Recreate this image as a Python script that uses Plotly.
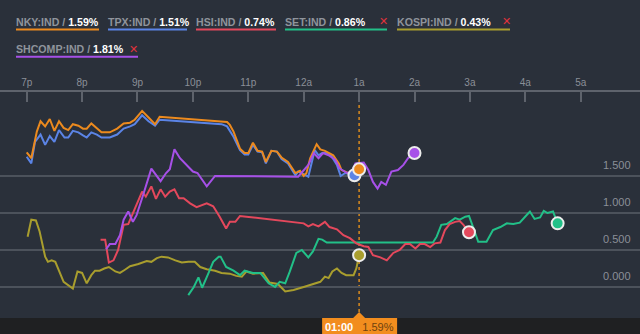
import plotly.graph_objects as go

W, H = 640, 334
TOP, BOT = 92, 16
PLOT_H = H - TOP - BOT

# ---- data: minutes after 7p, percent change ----
t_nky = [0, 5, 11, 15, 20, 25, 30, 35, 40, 45, 50, 56, 61, 65, 70, 76, 81, 90, 98, 105,
         112, 117, 125, 132, 139, 144, 155, 188, 217, 220, 224, 231, 236, 240, 245, 250, 255, 259, 265, 271,
         276, 283, 291, 296, 300, 303, 307, 314, 318, 323, 327, 332, 338, 341, 345, 348, 354, 360]
v_nky = [1.82, 1.74, 2.10, 2.24, 2.17, 2.27, 2.11, 2.24, 2.15, 2.12, 2.20, 2.18, 2.14, 2.14, 2.21, 2.15, 2.09, 2.09, 2.14, 2.21,
         2.22, 2.26, 2.38, 2.29, 2.20, 2.30, 2.29, 2.25, 2.23, 2.19, 2.10, 1.87, 1.81, 1.81, 1.95, 1.84, 1.83, 1.69, 1.84, 1.83,
         1.75, 1.69, 1.54, 1.57, 1.50, 1.54, 1.74, 1.93, 1.86, 1.84, 1.81, 1.78, 1.67, 1.58, 1.56, 1.54, 1.56, 1.59]

t_tpx = [0, 5, 9, 15, 20, 25, 30, 35, 41, 45, 50, 56, 61, 65, 70, 76, 81, 90, 98, 105,
         112, 117, 125, 132, 139, 144, 155, 188, 211, 217, 224, 231, 236, 240, 245, 250, 255, 259, 265, 271,
         276, 283, 291, 294, 298, 305, 312, 316, 320, 325, 330, 336, 340, 345, 355]
v_tpx = [1.76, 1.67, 1.96, 2.06, 1.92, 2.04, 1.96, 2.12, 2.02, 2.02, 2.11, 2.09, 2.05, 2.02, 2.09, 2.06, 2.02, 2.02, 2.06, 2.14,
         2.17, 2.20, 2.32, 2.24, 2.18, 2.26, 2.25, 2.22, 2.20, 2.17, 2.03, 1.85, 1.79, 1.79, 1.92, 1.83, 1.82, 1.67, 1.84, 1.83,
         1.73, 1.67, 1.51, 1.56, 1.54, 1.49, 1.85, 1.78, 1.81, 1.81, 1.77, 1.65, 1.50, 1.54, 1.51]

t_hsi = [80, 85, 89, 94, 99, 105, 110, 114, 119, 125, 129, 135, 140, 145, 150, 155, 160, 165, 170, 177,
         184, 195, 202, 209, 216, 220, 226, 231, 238, 253, 300, 305, 310, 316, 323, 328, 336, 343, 350, 357,
         365, 370, 375, 383, 390, 397, 404, 410, 415, 421, 426, 431, 437, 442, 448, 453, 458, 464, 469, 473, 479]
v_hsi = [0.64, 0.64, 0.33, 0.36, 0.50, 0.84, 0.85, 0.97, 1.11, 1.29, 1.22, 1.36, 1.19, 1.32, 1.22, 1.29, 1.32, 1.20, 1.20, 1.13,
         1.08, 1.13, 1.09, 0.95, 0.79, 0.88, 0.88, 0.96, 0.95, 0.93, 0.86, 0.82, 0.85, 0.82, 0.88, 0.81, 0.78, 0.70, 0.66, 0.59,
         0.55, 0.54, 0.43, 0.40, 0.36, 0.46, 0.50, 0.58, 0.58, 0.52, 0.58, 0.58, 0.54, 0.59, 0.60, 0.77, 0.85, 0.88, 0.89, 0.84, 0.74]

t_set = [175, 181, 186, 190, 197, 202, 208, 210, 216, 224, 231, 236, 245, 253, 262, 269, 274, 280, 285, 292,
         298, 305, 310, 316, 320, 325, 440, 444, 449, 455, 464, 469, 475, 479, 484, 489, 498, 505, 513, 520,
         527, 534, 542, 545, 550, 556, 560, 564, 570, 575]
v_set = [-0.11, 0.00, 0.13, -0.01, 0.19, 0.34, 0.41, 0.41, 0.27, 0.22, 0.16, 0.22, 0.19, 0.19, 0.05, 0.00, 0.07, 0.05, 0.21, 0.46,
         0.50, 0.40, 0.48, 0.65, 0.64, 0.60, 0.60, 0.68, 0.84, 0.85, 0.93, 0.91, 0.95, 0.96, 0.79, 0.61, 0.61, 0.77, 0.81, 0.86,
         0.85, 0.87, 0.98, 1.02, 0.92, 0.94, 1.03, 1.00, 1.02, 0.86]

t_kospi = [1, 5, 10, 14, 20, 23, 27, 31, 40, 45, 50, 55, 60, 65, 70, 74, 79, 84, 89, 96,
           101, 106, 112, 121, 130, 135, 141, 146, 153, 161, 168, 175, 182, 188, 195, 204, 211, 220, 227, 233,
           238, 245, 253, 256, 263, 272, 280, 289, 300, 310, 318, 323, 327, 331, 336, 341, 346, 354, 357, 360]
v_kospi = [0.68, 0.91, 0.90, 0.75, 0.41, 0.34, 0.36, 0.34, 0.07, 0.03, -0.02, 0.21, 0.19, 0.05, 0.16, 0.22, 0.22, 0.25, 0.27, 0.21,
           0.19, 0.23, 0.28, 0.31, 0.35, 0.34, 0.39, 0.41, 0.40, 0.36, 0.33, 0.34, 0.34, 0.27, 0.24, 0.22, 0.19, 0.18, 0.15, 0.14,
           0.21, 0.18, 0.18, 0.19, 0.06, 0.04, -0.06, -0.04, 0.00, 0.04, 0.07, 0.14, 0.12, 0.21, 0.25, 0.19, 0.16, 0.16, 0.25, 0.43]

t_shcomp = [86, 90, 96, 101, 105, 110, 115, 119, 126, 135, 145, 151, 155, 160, 166, 173, 180, 185, 195, 204,
            294, 305, 311, 316, 321, 327, 334, 339, 347, 352, 356, 365, 370, 375, 380, 384, 389, 395, 402, 408,
            413, 420]
v_shcomp = [0.51, 0.58, 0.58, 0.70, 0.91, 1.02, 0.88, 0.97, 1.24, 1.60, 1.43, 1.54, 1.59, 1.86, 1.74, 1.65, 1.56, 1.54, 1.36, 1.50,
            1.49, 1.65, 1.81, 1.74, 1.81, 1.78, 1.72, 1.60, 1.54, 1.56, 1.67, 1.68, 1.58, 1.42, 1.33, 1.42, 1.38, 1.56, 1.58, 1.65,
            1.74, 1.81]

names = ["NKY:IND", "TPX:IND", "HSI:IND", "SET:IND", "KOSPI:IND", "SHCOMP:IND"]
removable = [False, False, False, True, True, True]
colors = ["#ec8a1e", "#5b84e6", "#e4485c", "#22c088", "#a99e2e", "#a750e8"]

tick_minutes = [0, 60, 120, 180, 240, 300, 360, 420, 480, 540, 600]
tick_text = ["7p", "8p", "9p", "10p", "11p", "12a", "1a", "2a", "3a", "4a", "5a"]
y_ticks = [0.0, 0.5, 1.0, 1.5]
hover_minute = 360
hover_label = "01:00"
hover_value = v_nky[-1]

series = [(t_nky, v_nky), (t_tpx, v_tpx), (t_hsi, v_hsi), (t_set, v_set), (t_kospi, v_kospi), (t_shcomp, v_shcomp)]

BG = "#2a303a"
FONT = "Liberation Sans, Arial, sans-serif"


def py(ypx):
    return (H - BOT - ypx) / PLOT_H


def pxf(xpx):
    return xpx / W


fig = go.Figure()
draw_order = [4, 3, 2, 1, 0, 5]
for i in draw_order:
    t, v = series[i]
    fig.add_trace(go.Scatter(x=t, y=v, mode="lines", line=dict(color=colors[i], width=2),
                             hoverinfo="skip", showlegend=False))
for i in draw_order:
    t, v = series[i]
    fig.add_trace(go.Scatter(x=[t[-1]], y=[v[-1]], mode="markers",
                             marker=dict(size=12, color=colors[i], line=dict(color="#ececec", width=2)),
                             hoverinfo="skip", showlegend=False))

shapes = []
annotations = []

# dotted hover line
shapes.append(dict(type="line", xref="x", yref="paper", x0=hover_minute, x1=hover_minute, y0=0, y1=1,
                   line=dict(color="#d98a1e", width=1.5, dash="dot"), layer="below"))
# bottom strip
shapes.append(dict(type="rect", xref="paper", yref="paper", x0=0, x1=1, y0=-BOT / PLOT_H, y1=0,
                   fillcolor="#1f2022", line=dict(width=0)))
# hover badge
shapes.append(dict(type="rect", xref="x", xsizemode="pixel", xanchor=hover_minute, x0=-37, x1=38,
                   yref="paper", y0=-BOT / PLOT_H, y1=0, fillcolor="#f28d1e", line=dict(width=0)))
shapes.append(dict(type="path", xref="x", xsizemode="pixel", xanchor=hover_minute,
                   yref="paper", ysizemode="pixel", yanchor=0,
                   path="M -6,0 L 6,0 L 0,6 Z", fillcolor="#f28d1e", line=dict(width=0)))
annotations.append(dict(xref="x", x=hover_minute, yref="paper", y=py(326.5), xanchor="center", yanchor="middle",
                        showarrow=False,
                        text=f"<b>{hover_label}</b>   <span style='color:#6e420f'>{hover_value:.2f}%</span>",
                        font=dict(family=FONT, size=11, color="#ffffff")))

# y labels above gridlines
for val in y_ticks:
    annotations.append(dict(xref="paper", x=pxf(633), yref="y", y=val, yshift=11, xanchor="right",
                            yanchor="middle", showarrow=False, text=f"{val:.3f}",
                            font=dict(family=FONT, size=11, color="#8a8f98")))

# custom legend
leg_x = [16, 108, 196, 285, 397, 16]
leg_row = [0, 0, 0, 0, 0, 1]
leg_end = [99, 187, 276, 387, 510, 138]
leg_xmark = [None, None, None, 383, 506, 133]
row_text_y = [21.7, 49.3]
row_line_y = [29.5, 56.7]
for i, nm in enumerate(names):
    r = leg_row[i]
    val = series[i][1][-1]
    annotations.append(dict(xref="paper", yref="paper", x=pxf(leg_x[i] - 2), y=py(row_text_y[r]),
                            xanchor="left", yanchor="middle", showarrow=False,
                            text=f"<b><span style='color:#8f949c'>{nm} / </span>{val:.2f}%</b>",
                            font=dict(family=FONT, size=10.6, color="#ffffff")))
    if removable[i]:
        annotations.append(dict(xref="paper", yref="paper", x=pxf(leg_xmark[i]), y=py(row_text_y[r]),
                                xanchor="center", yanchor="middle", showarrow=False, text="✕",
                                font=dict(family="DejaVu Sans", size=11, color="#e0323c")))
    shapes.append(dict(type="line", xref="paper", yref="paper", x0=pxf(leg_x[i]), x1=pxf(leg_end[i]),
                       y0=py(row_line_y[r]), y1=py(row_line_y[r]),
                       line=dict(color=colors[i], width=2)))

fig.update_layout(
    width=W, height=H,
    margin=dict(l=0, r=0, t=TOP, b=BOT, pad=0),
    paper_bgcolor=BG, plot_bgcolor=BG,
    showlegend=False,
    shapes=shapes, annotations=annotations,
    xaxis=dict(range=[-28.9, 664.2], side="top", tickmode="array", tickvals=tick_minutes, ticktext=tick_text,
               ticks="inside", ticklen=10, tickwidth=2, tickcolor="#5e636c",
               showline=True, linecolor="#5e636c", linewidth=2, showgrid=False, zeroline=False,
               tickfont=dict(family=FONT, size=10, color="#8a8f98"), fixedrange=True),
    yaxis=dict(range=[-0.419, 2.635], tickmode="array", tickvals=y_ticks, showticklabels=False,
               showgrid=True, gridcolor="#4c525b", gridwidth=2, zeroline=False, ticks="", fixedrange=True),
)

fig.write_html("out.html")
